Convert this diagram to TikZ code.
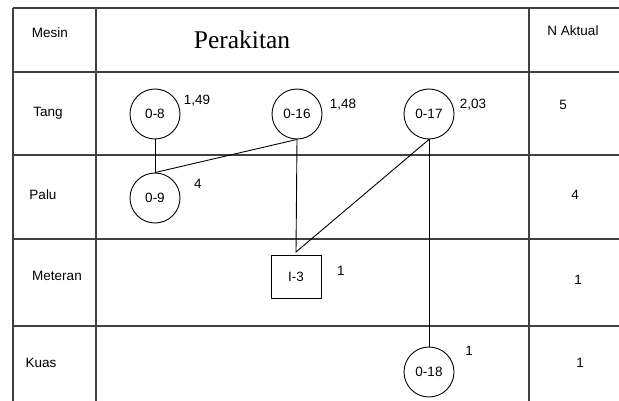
\documentclass[tikz,border=0pt]{standalone}
\usepackage{fontspec}
\setmainfont{Liberation Sans}
\newfontfamily\serifx{Liberation Serif}
\begin{document}
\begin{tikzpicture}[x=1pt,y=-1pt,
  grid/.style={draw=black!75, line width=1.4pt},
  conn/.style={draw=black, line width=0.9pt},
  proc/.style={circle, draw=black, line width=0.9pt, minimum size=50pt, inner sep=0pt, font=\fontsize{13.5}{15}\selectfont},
  insp/.style={rectangle, draw=black, line width=0.9pt, minimum width=50pt, minimum height=43pt, inner sep=0pt, font=\fontsize{13.5}{15}\selectfont},
  lbl/.style={font=\fontsize{13.5}{15}\selectfont, inner sep=0pt}]
\useasboundingbox (0,0) rectangle (619,401);
\fill[white] (0,0) rectangle (619,401);
% table grid
\draw[grid] (13,8) -- (13,401);
\draw[grid] (96,8) -- (96,401);
\draw[grid] (529,8) -- (529,401);
\draw[grid] (13,8) -- (619,8);
\draw[grid] (13,72) -- (619,72);
\draw[grid] (13,155) -- (619,155);
\draw[grid] (13,239) -- (619,239);
\draw[grid] (13,326) -- (619,326);
% headers
\node[lbl] (hmesin) at (50,33) {Mesin};
\node[font=\serifx\fontsize{25.5}{30}\selectfont, inner sep=0pt] (hperak) at (242,40) {Perakitan};
\node[lbl] (hnakt) at (573,31) {N Aktual};
% row labels
\node[lbl] (rtang) at (48,113) {Tang};
\node[lbl] (rpalu) at (43,195) {Palu};
\node[lbl] (rmeter) at (57,276) {Meteran};
\node[lbl] (rkuas) at (41,363) {Kuas};
% N aktual values
\node[lbl] (n1) at (563,105) {5};
\node[lbl] (n2) at (575,195) {4};
\node[lbl] (n3) at (578,280) {1};
\node[lbl] (n4) at (580,363) {1};
% process nodes
\node[proc] (o8) at (155,114) {0-8};
\node[proc] (o16) at (297,114) {0-16};
\node[proc] (o17) at (429,114) {0-17};
\node[proc] (o9) at (155,198) {0-9};
\node[insp] (i3) at (296,276.5) {I-3};
\node[proc] (o18) at (429,372) {0-18};
% time labels
\node[lbl] (t8) at (197,101) {1,49};
\node[lbl] (t16) at (343,105) {1,48};
\node[lbl] (t17) at (473,105) {2,03};
\node[lbl] (t9) at (198,184) {4};
\node[lbl] (ti3) at (341,271) {1};
\node[lbl] (t18) at (469,351) {1};
% connectors
\coordinate (j) at (296,252);
\draw[conn] (o8.south) -- (o9.north);
\draw[conn] (o9.north) -- (o16.south);
\draw[conn] (o16.south) -- (j) -- (o17.south);
\draw[conn] (o17.south) -- (o18.north);
\end{tikzpicture}
\end{document}
